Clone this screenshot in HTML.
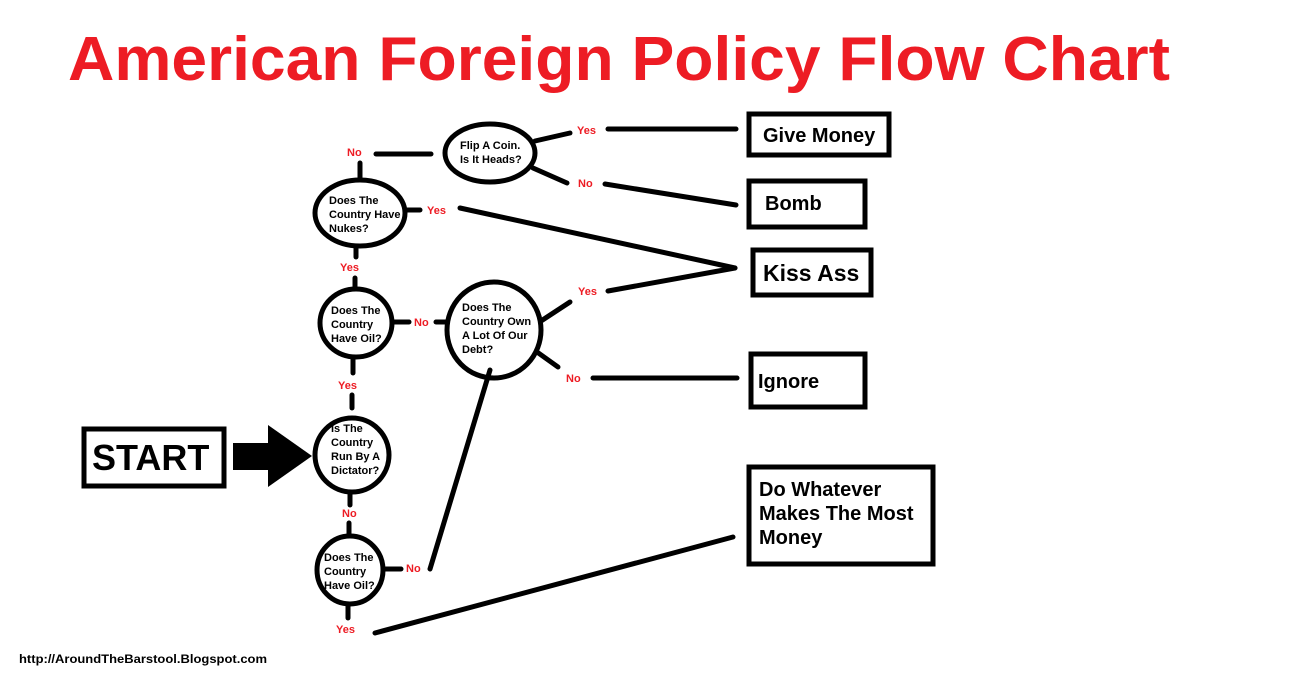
<!DOCTYPE html>
<html><head><meta charset="utf-8"><style>
html,body{margin:0;padding:0;background:#fff;}
svg{display:block;}
text{font-family:"Liberation Sans",Arial,sans-serif;font-weight:bold;}
.r{fill:#ed1c24;font-size:11px;}
.q{fill:#000;font-size:11px;}
.b{fill:#000;font-size:20px;}
</style></head><body>
<svg width="1293" height="679" viewBox="0 0 1293 679" xmlns="http://www.w3.org/2000/svg">
<text x="68" y="80" fill="#ed1c24" style="font-size:62px" textLength="1102" lengthAdjust="spacingAndGlyphs">American Foreign Policy Flow Chart</text>
<g fill="#fff" stroke="#000" stroke-width="5">
<ellipse cx="490" cy="153" rx="45" ry="29"/>
<ellipse cx="360" cy="213" rx="45" ry="33"/>
<ellipse cx="356" cy="323" rx="36" ry="34"/>
<ellipse cx="494" cy="330" rx="47" ry="48"/>
<ellipse cx="352" cy="455" rx="37" ry="37"/>
<ellipse cx="350" cy="570" rx="33" ry="34"/>
<rect x="749" y="114" width="140" height="41"/>
<rect x="749" y="181" width="116" height="46"/>
<rect x="753" y="250" width="118" height="45"/>
<rect x="751" y="354" width="114" height="53"/>
<rect x="749" y="467" width="184" height="97"/>
<rect x="84" y="429" width="140" height="57"/>
</g>
<g stroke="#000" stroke-width="5" fill="none" stroke-linecap="round">
<line x1="376" y1="154" x2="431" y2="154"/>
<line x1="360" y1="163" x2="360" y2="180"/>
<line x1="535" y1="141" x2="570" y2="133"/>
<line x1="608" y1="129" x2="736" y2="129"/>
<line x1="533" y1="168" x2="567" y2="183"/>
<line x1="605" y1="184" x2="736" y2="205"/>
<line x1="406" y1="210" x2="420" y2="210"/>
<line x1="460" y1="208" x2="735" y2="268"/>
<line x1="608" y1="291" x2="735" y2="268"/>
<line x1="356" y1="246" x2="356" y2="257"/>
<line x1="355" y1="278" x2="355" y2="289"/>
<line x1="392" y1="322" x2="409" y2="322"/>
<line x1="436" y1="322" x2="447" y2="322"/>
<line x1="541" y1="321" x2="570" y2="302"/>
<line x1="537" y1="352" x2="558" y2="367"/>
<line x1="593" y1="378" x2="737" y2="378"/>
<line x1="353" y1="357" x2="353" y2="373"/>
<line x1="352" y1="395" x2="352" y2="408"/>
<line x1="350" y1="492" x2="350" y2="505"/>
<line x1="349" y1="523" x2="349" y2="535"/>
<line x1="384" y1="569" x2="401" y2="569"/>
<line x1="430" y1="569" x2="490" y2="370"/>
<line x1="348" y1="604" x2="348" y2="618"/>
<line x1="375" y1="633" x2="733" y2="537"/>
</g>
<rect x="233" y="443" width="37" height="27" fill="#000"/>
<polygon points="268,425 312,456 268,487" fill="#000"/>
<g class="r">
<text x="347" y="156">No</text>
<text x="577" y="134">Yes</text>
<text x="578" y="187">No</text>
<text x="427" y="214">Yes</text>
<text x="340" y="271">Yes</text>
<text x="414" y="326">No</text>
<text x="578" y="295">Yes</text>
<text x="566" y="382">No</text>
<text x="338" y="389">Yes</text>
<text x="342" y="517">No</text>
<text x="406" y="572">No</text>
<text x="336" y="633">Yes</text>
</g>
<g class="q">
<text x="460" y="149">Flip A Coin.</text>
<text x="460" y="163">Is It Heads?</text>
<text x="329" y="204">Does The</text>
<text x="329" y="218">Country Have</text>
<text x="329" y="232">Nukes?</text>
<text x="331" y="314">Does The</text>
<text x="331" y="328">Country</text>
<text x="331" y="342">Have Oil?</text>
<text x="462" y="311">Does The</text>
<text x="462" y="325">Country Own</text>
<text x="462" y="339">A Lot Of Our</text>
<text x="462" y="353">Debt?</text>
<text x="331" y="432">Is The</text>
<text x="331" y="446">Country</text>
<text x="331" y="460">Run By A</text>
<text x="331" y="474">Dictator?</text>
<text x="324" y="561">Does The</text>
<text x="324" y="575">Country</text>
<text x="324" y="589">Have Oil?</text>
</g>
<g class="b">
<text x="763" y="142">Give Money</text>
<text x="765" y="210">Bomb</text>
<text x="763" y="281" style="font-size:23px">Kiss Ass</text>
<text x="758" y="388">Ignore</text>
<text x="759" y="496">Do Whatever</text>
<text x="759" y="520">Makes The Most</text>
<text x="759" y="544">Money</text>
</g>
<text x="92" y="470" style="font-size:36px" fill="#000">START</text>
<text x="19" y="663" style="font-size:12px" fill="#000" textLength="248" lengthAdjust="spacingAndGlyphs">http://AroundTheBarstool.Blogspot.com</text>
</svg>
</body></html>
